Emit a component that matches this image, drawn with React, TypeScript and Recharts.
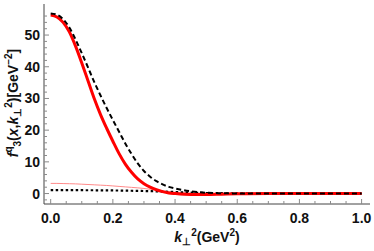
import React from 'react';
import { LineChart, Line, XAxis, YAxis } from 'recharts';

// k_perp^2 sample points (GeV^2)
const kt2 = [0, 0.02, 0.04, 0.06, 0.08, 0.1, 0.12, 0.14, 0.16, 0.18, 0.2, 0.22, 0.24, 0.26, 0.28, 0.3, 0.32, 0.34, 0.36, 0.38, 0.4, 0.45, 0.5, 0.55, 0.6, 0.7, 0.8, 0.9, 1.0];

// thick red curve
const redSolid = [56.3, 55.7, 54, 51, 46.5, 41.2, 35.6, 30, 25, 20.6, 16.5, 12.6, 9.3, 6.7, 4.6, 3.1, 2.0, 1.2, 0.6, 0.2, 0, -0.3, -0.3, -0.2, -0.1, 0, 0, 0, 0];
// black dashed curve
const blackDashed = [56.8, 56.4, 55, 52.4, 48.6, 44.3, 39.8, 35.2, 31, 27, 23.2, 19.5, 15.8, 12.5, 9.5, 7.1, 5.3, 3.9, 2.9, 2.1, 1.6, 0.7, 0.25, 0.1, 0.03, 0, 0, 0, 0];
// thin pink curve
const pinkThin = [3.2, 3.2, 3.15, 3.1, 3.05, 2.95, 2.85, 2.75, 2.65, 2.55, 2.4, 2.25, 2.1, 1.95, 1.8, 1.6, 1.35, 1.1, 0.85, 0.6, 0.4, 0.15, 0.05, 0, 0, 0, 0, 0, 0];
// black dotted curve
const blackDotted = [1.05, 1.05, 1.05, 1.05, 1.05, 1.05, 1.04, 1.03, 1.02, 1.0, 0.98, 0.95, 0.92, 0.88, 0.84, 0.8, 0.75, 0.7, 0.63, 0.56, 0.48, 0.3, 0.17, 0.1, 0.05, 0.01, 0, 0, 0];

const xMajor = [0, 0.2, 0.4, 0.6, 0.8, 1.0];
const yMajor = [0, 10, 20, 30, 40, 50];

const xTicks = Array.from({ length: 21 }, (_, i) => +(i * 0.05).toFixed(2));
const yTicks = Array.from({ length: 30 }, (_, i) => i * 2 - 2);

const data = kt2.map((x, i) => ({
  x,
  red: redSolid[i],
  dashed: blackDashed[i],
  pink: pinkThin[i],
  dotted: blackDotted[i],
}));

const FONT = '"Liberation Sans", Arial, sans-serif';
const TICK = '#8a8a8a';
const FRAME = '#444';

const isMajorX = (v: number) => xMajor.some(m => Math.abs(m - v) < 1e-6);
const isMajorY = (v: number) => yMajor.includes(v);

const BottomTick = (props: any) => {
  const { x, y, payload } = props;
  const major = isMajorX(payload.value);
  return (
    <g>
      <line x1={x} x2={x} y1={y} y2={y - (major ? 5 : 3)} stroke={TICK} />
      {major && (
        <text x={x} y={y + 19} textAnchor="middle" fontFamily={FONT} fontWeight="bold" fontSize={14} fill="#111">
          {payload.value.toFixed(1)}
        </text>
      )}
    </g>
  );
};

const TopTick = (props: any) => {
  const { x, y, payload } = props;
  const major = isMajorX(payload.value);
  return <line x1={x} x2={x} y1={y} y2={y + (major ? 5 : 3)} stroke={TICK} />;
};

const LeftTick = (props: any) => {
  const { x, y, payload } = props;
  const major = isMajorY(payload.value);
  return (
    <g>
      <line x1={x} x2={x + (major ? 5 : 3)} y1={y} y2={y} stroke={TICK} />
      {major && (
        <text x={x - 4} y={y + 5} textAnchor="end" fontFamily={FONT} fontWeight="bold" fontSize={14} fill="#111">
          {payload.value}
        </text>
      )}
    </g>
  );
};

const RightTick = (props: any) => {
  const { x, y, payload } = props;
  const major = isMajorY(payload.value);
  return <line x1={x} x2={x - (major ? 5 : 3)} y1={y} y2={y} stroke={TICK} />;
};

const XTitle = () => (
  <text x={207} y={242} textAnchor="middle" fontFamily={FONT} fontWeight="bold" fontSize={14} fill="#111">
    <tspan fontStyle="italic">k</tspan>
    <tspan fontSize={10} dy={3}>⊥</tspan>
    <tspan fontSize={10} dy={-9}>2</tspan>
    <tspan dy={6}>(GeV</tspan>
    <tspan fontSize={10} dy={-6}>2</tspan>
    <tspan dy={6}>)</tspan>
  </text>
);

const YTitle = () => (
  <text
    x={0}
    y={0}
    transform="translate(18,103) rotate(-90)"
    textAnchor="middle"
    fontFamily={FONT}
    fontWeight="bold"
    fontSize={14}
    fill="#111"
  >
    <tspan fontStyle="italic">f</tspan>
    <tspan fontSize={10} dy={-6}>q</tspan>
    <tspan fontSize={10} dy={9}>3</tspan>
    <tspan dy={-3}>(</tspan>
    <tspan fontStyle="italic">x</tspan>
    <tspan>,</tspan>
    <tspan fontStyle="italic">k</tspan>
    <tspan fontSize={10} dy={3}>⊥</tspan>
    <tspan fontSize={10} dy={-9}>2</tspan>
    <tspan dy={6}>)[GeV</tspan>
    <tspan fontSize={10} dy={-6}>−2</tspan>
    <tspan dy={6}>]</tspan>
  </text>
);

export default function App() {
  return (
    <div style={{ position: 'absolute', left: 0, top: 0, background: '#fff' }}>
      <LineChart width={374} height={251} data={data} margin={{ top: 4, right: 4, bottom: 0, left: 0 }}>
        <XAxis
          xAxisId="b"
          dataKey="x"
          type="number"
          domain={[-0.0215, 1.027]}
          ticks={xTicks}
          interval={0}
          allowDataOverflow
          height={47}
          tickSize={0}
          tickMargin={0}
          tick={<BottomTick />}
          axisLine={{ stroke: FRAME }}
          label={<XTitle />}
        />
        <XAxis
          xAxisId="t"
          orientation="top"
          dataKey="x"
          type="number"
          domain={[-0.0215, 1.027]}
          ticks={xTicks}
          interval={0}
          allowDataOverflow
          height={0}
          tickSize={0}
          tickMargin={0}
          tick={<TopTick />}
          axisLine={{ stroke: FRAME }}
        />
        <YAxis
          yAxisId="l"
          type="number"
          domain={[-3.3, 59.8]}
          ticks={yTicks}
          interval={0}
          allowDataOverflow
          width={44}
          tickSize={0}
          tickMargin={0}
          tick={<LeftTick />}
          axisLine={{ stroke: FRAME }}
          label={<YTitle />}
        />
        <YAxis
          yAxisId="r"
          orientation="right"
          type="number"
          domain={[-3.3, 59.8]}
          ticks={yTicks}
          interval={0}
          allowDataOverflow
          width={0}
          tickSize={0}
          tickMargin={0}
          tick={<RightTick />}
          axisLine={{ stroke: FRAME }}
        />
        <Line xAxisId="b" yAxisId="l" type="monotone" dataKey="pink" stroke="#ff8a8a" strokeWidth={1} dot={false} isAnimationActive={false} />
        <Line xAxisId="b" yAxisId="l" type="monotone" dataKey="dotted" stroke="#000" strokeWidth={2.2} strokeDasharray="2.5 2.5" dot={false} isAnimationActive={false} />
        <Line xAxisId="b" yAxisId="l" type="monotone" dataKey="red" stroke="#ff0000" strokeWidth={3} dot={false} isAnimationActive={false} />
        <Line xAxisId="b" yAxisId="l" type="monotone" dataKey="dashed" stroke="#000" strokeWidth={2} strokeDasharray="5 3" dot={false} isAnimationActive={false} />
      </LineChart>
    </div>
  );
}
